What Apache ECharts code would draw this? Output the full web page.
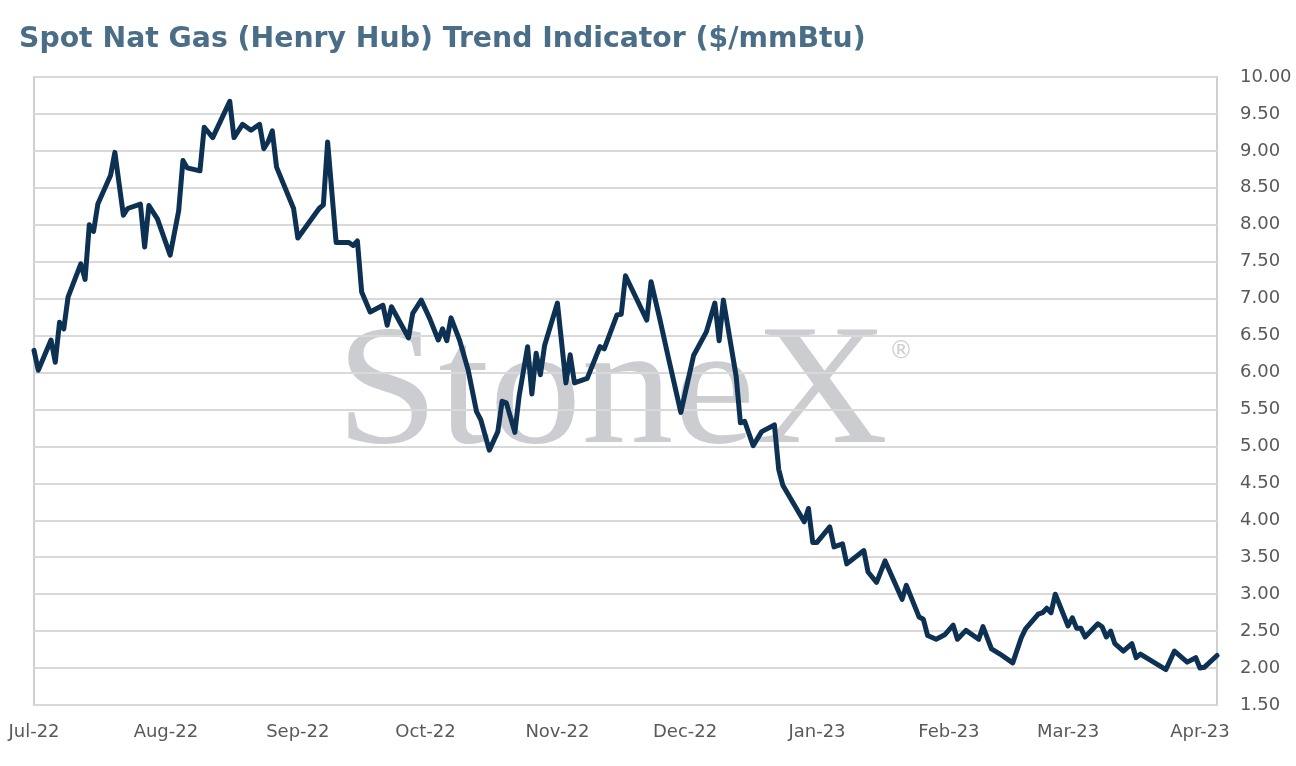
<!DOCTYPE html>
<html>
<head>
<meta charset="utf-8">
<title>Spot Nat Gas (Henry Hub) Trend Indicator</title>
<script src="https://cdn.jsdelivr.net/npm/echarts@6/dist/echarts.min.js"></script>
<style>
    html,body{margin:0;padding:0;background:#ffffff;}
    #container{width:1296px;height:766px;}
</style>
</head>
<body>
<div id="container"></div>
<script>
// values (turning points of the line)
var dates = [
    '2022-07-01','2022-07-02','2022-07-05','2022-07-06','2022-07-07','2022-07-08','2022-07-09','2022-07-12',
    '2022-07-13','2022-07-14','2022-07-15','2022-07-16','2022-07-19','2022-07-20','2022-07-22','2022-07-23',
    '2022-07-26','2022-07-27','2022-07-28','2022-07-30','2022-08-02','2022-08-04','2022-08-05','2022-08-06',
    '2022-08-09','2022-08-10','2022-08-12','2022-08-16','2022-08-17','2022-08-19','2022-08-21','2022-08-23',
    '2022-08-24','2022-08-25','2022-08-26','2022-08-27','2022-08-31','2022-09-01','2022-09-06','2022-09-07',
    '2022-09-08','2022-09-10','2022-09-13','2022-09-14','2022-09-15','2022-09-16','2022-09-18','2022-09-21',
    '2022-09-22','2022-09-23','2022-09-27','2022-09-28','2022-09-30','2022-10-02','2022-10-04','2022-10-05',
    '2022-10-06','2022-10-07','2022-10-09','2022-10-11','2022-10-13','2022-10-14','2022-10-16','2022-10-18',
    '2022-10-19','2022-10-20','2022-10-22','2022-10-23','2022-10-25','2022-10-26','2022-10-27','2022-10-28',
    '2022-10-29','2022-11-01','2022-11-03','2022-11-04','2022-11-05','2022-11-08','2022-11-11','2022-11-12',
    '2022-11-15','2022-11-16','2022-11-17','2022-11-22','2022-11-23','2022-11-25','2022-11-27','2022-11-30',
    '2022-12-03','2022-12-06','2022-12-08','2022-12-09','2022-12-10','2022-12-13','2022-12-14','2022-12-15',
    '2022-12-17','2022-12-19','2022-12-22','2022-12-23','2022-12-24','2022-12-29','2022-12-30','2022-12-31',
    '2023-01-01','2023-01-04','2023-01-05','2023-01-07','2023-01-08','2023-01-12','2023-01-13','2023-01-15',
    '2023-01-17','2023-01-21','2023-01-22','2023-01-25','2023-01-26','2023-01-27','2023-01-29','2023-01-31',
    '2023-02-02','2023-02-03','2023-02-05','2023-02-08','2023-02-09','2023-02-11','2023-02-13','2023-02-16',
    '2023-02-18','2023-02-19','2023-02-22','2023-02-23','2023-02-24','2023-02-25','2023-02-26','2023-03-01',
    '2023-03-02','2023-03-03','2023-03-04','2023-03-05','2023-03-08','2023-03-09','2023-03-10','2023-03-11',
    '2023-03-12','2023-03-14','2023-03-16','2023-03-17','2023-03-18','2023-03-24','2023-03-26','2023-03-29',
    '2023-03-31','2023-04-01','2023-04-02','2023-04-05'
];
var prices = [
    6.30,6.03,6.44,6.14,6.68,6.59,7.02,7.47,
    7.26,8.00,7.91,8.28,8.67,8.98,8.13,8.22,
    8.28,7.70,8.26,8.08,7.59,8.19,8.87,8.77,
    8.73,9.32,9.18,9.67,9.18,9.36,9.28,9.36,
    9.03,9.12,9.27,8.78,8.22,7.82,8.22,8.27,
    9.12,7.76,7.76,7.72,7.78,7.09,6.82,6.91,
    6.64,6.89,6.47,6.80,6.98,6.73,6.44,6.59,
    6.43,6.74,6.44,6.04,5.47,5.36,4.95,5.20,
    5.61,5.59,5.19,5.68,6.35,5.71,6.26,5.97,
    6.37,6.94,5.86,6.24,5.86,5.92,6.35,6.32,
    6.78,6.79,7.31,6.71,7.23,6.74,6.22,5.46,
    6.23,6.55,6.94,6.43,6.98,5.95,5.32,5.34,
    5.01,5.20,5.29,4.69,4.47,3.98,4.16,3.70,
    3.70,3.91,3.64,3.68,3.41,3.59,3.30,3.16,
    3.45,2.93,3.12,2.69,2.66,2.44,2.39,2.45,
    2.58,2.39,2.51,2.39,2.56,2.26,2.19,2.07,
    2.41,2.53,2.73,2.75,2.81,2.75,3.00,2.57,
    2.68,2.54,2.54,2.42,2.60,2.56,2.42,2.50,
    2.33,2.23,2.33,2.14,2.19,1.98,2.23,2.08,
    2.14,2.00,2.01,2.17
];
// x axis labels at the first of each month
var monthTicks = ['2022-07-01','2022-08-01','2022-09-01','2022-10-01','2022-11-01',
    '2022-12-01','2023-01-01','2023-02-01','2023-03-01','2023-04-01'];
var monthNames = ['Jan','Feb','Mar','Apr','May','Jun','Jul','Aug','Sep','Oct','Nov','Dec'];

function toTime(s){
    var p = s.split('-');
    return new Date(+p[0], +p[1]-1, +p[2]).getTime();
}

var seriesData = [];
for (var i=0;i<dates.length;i++){
    seriesData.push([toTime(dates[i]), prices[i]]);
}
var tickValues = [];
for (var t=0;t<monthTicks.length;t++){
    tickValues.push(toTime(monthTicks[t]));
}

var labelFont = 'DejaVu Sans';
var myChart = echarts.init(document.getElementById('container'));
var option = {
    backgroundColor: '#ffffff',
    animation: false,
    title: {
        text: 'Spot Nat Gas (Henry Hub) Trend Indicator ($/mmBtu)',
        left: 14,
        top: 21,
        textStyle: {
            fontFamily: 'DejaVu Sans',
            fontWeight: 'bold',
            fontSize: 28.3,
            color: '#4a6e87'
        }
    },
    grid: {
        left: 34,
        right: 79,
        top: 77,
        bottom: 61,
        show: true,
        borderColor: '#cfcfcf',
        borderWidth: 2
    },
    // StoneX watermark behind the grid lines
    graphic: [{
        type: 'text',
        left: 336,
        top: 311,
        z: -1,
        scaleX: 1.07,
        style: {
            text: 'StoneX',
            font: '172px "Liberation Serif"',
            fill: '#cbcdd0'
        }
    }, {
        type: 'text',
        left: 889,
        top: 340,
        z: -1,
        style: {
            text: '\u00ae',
            font: '24px "DejaVu Sans"',
            fill: '#cbcdd0'
        }
    }],
    xAxis: {
        type: 'value',
        min: toTime('2022-07-01'),
        max: toTime('2023-04-05'),
        axisLine: {show: false},
        axisTick: {show: false},
        splitLine: {show: false},
        axisLabel: {
            customValues: tickValues,
            margin: 18,
            fontFamily: labelFont,
            fontSize: 18,
            color: '#595959',
            hideOverlap: false,
            formatter: function (val) {
                var d = new Date(val);
                return monthNames[d.getMonth()] + '-' + String(d.getFullYear()).slice(2);
            }
        }
    },
    yAxis: {
        type: 'value',
        position: 'right',
        min: 1.5,
        max: 10,
        interval: 0.5,
        axisLine: {show: false},
        axisTick: {show: false},
        splitLine: {lineStyle: {color: '#d9d9d9', width: 2}},
        axisLabel: {
            margin: 23,
            fontFamily: labelFont,
            fontSize: 18,
            color: '#595959',
            formatter: function (v) { return v.toFixed(2); }
        }
    },
    series: [{
        name: 'Henry Hub',
        type: 'line',
        data: seriesData,
        symbol: 'none',
        smooth: false,
        lineStyle: {
            color: '#0d3152',
            width: 5,
            join: 'round',
            cap: 'round'
        }
    }]
};
myChart.setOption(option);
</script>
</body>
</html>
